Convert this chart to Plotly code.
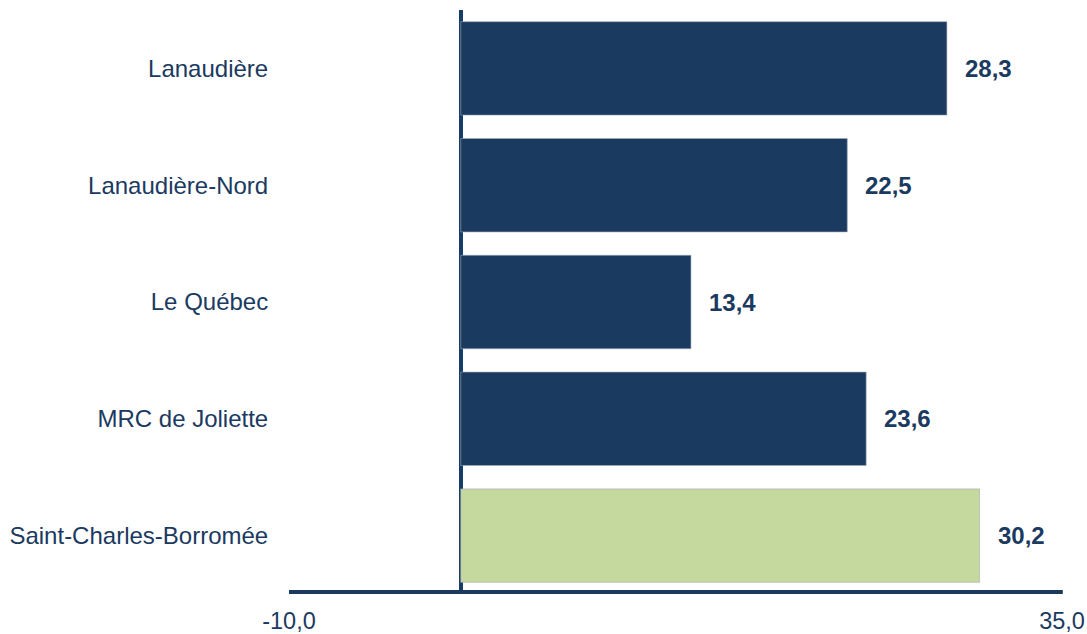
import plotly.graph_objects as go

categories = ["Lanaudière", "Lanaudière-Nord", "Le Québec", "MRC de Joliette", "Saint-Charles-Borromée"]
values = [28.3, 22.5, 13.4, 23.6, 30.2]
bar_colors = ["#1b3a5f", "#1b3a5f", "#1b3a5f", "#1b3a5f", "#c5d89d"]
tick_vals = [-10, 35]
tick_text = ["-10,0", "35,0"]
labels = [f"{v:.1f}".replace(".", ",") for v in values]

navy = "#1b3a5f"
font_family = "Liberation Sans, Arial, sans-serif"

fig = go.Figure()
fig.add_trace(go.Bar(
    y=categories, x=values, orientation="h",
    marker=dict(color=bar_colors, line=dict(color="rgba(160,170,180,0.6)", width=1)),
    hoverinfo="skip",
))

for c, v, t in zip(categories, values, labels):
    fig.add_annotation(x=v, y=c, text=f"<b>{t}</b>", showarrow=False,
                       xanchor="left", xshift=16,
                       font=dict(family=font_family, size=24, color=navy))

# horizontal axis line, drawn slightly inside the plot bottom edge
fig.add_shape(type="line", xref="paper", yref="paper", x0=0, x1=1.001, y0=0.0035, y1=0.0035,
              line=dict(color=navy, width=4), layer="above")

fig.update_layout(
    width=1087, height=634,
    margin=dict(l=289, r=25, t=10, b=40, autoexpand=False),
    paper_bgcolor="white", plot_bgcolor="white",
    showlegend=False, bargap=0.2,
    font=dict(family=font_family, size=24, color=navy),
    xaxis=dict(range=[-10, 35], tickvals=tick_vals, ticktext=tick_text,
               automargin=False,
               showgrid=False, showline=False,
               zeroline=True, zerolinecolor="#163d68", zerolinewidth=4,
               ticks="outside", ticklen=6, tickcolor="rgba(0,0,0,0)",
               tickfont=dict(size=23.5, color=navy)),
    yaxis=dict(categoryorder="array", categoryarray=categories[::-1],
               automargin=False,
               range=[-0.5, 4.5], showgrid=False, showline=False, zeroline=False,
               ticks="outside", ticklen=15, tickcolor="rgba(0,0,0,0)",
               tickfont=dict(size=24, color=navy)),
)

fig.write_html(
    "out.html",
    config={"displayModeBar": False},
    post_script="document.body.style.margin='0';document.documentElement.style.overflow='hidden';",
)
